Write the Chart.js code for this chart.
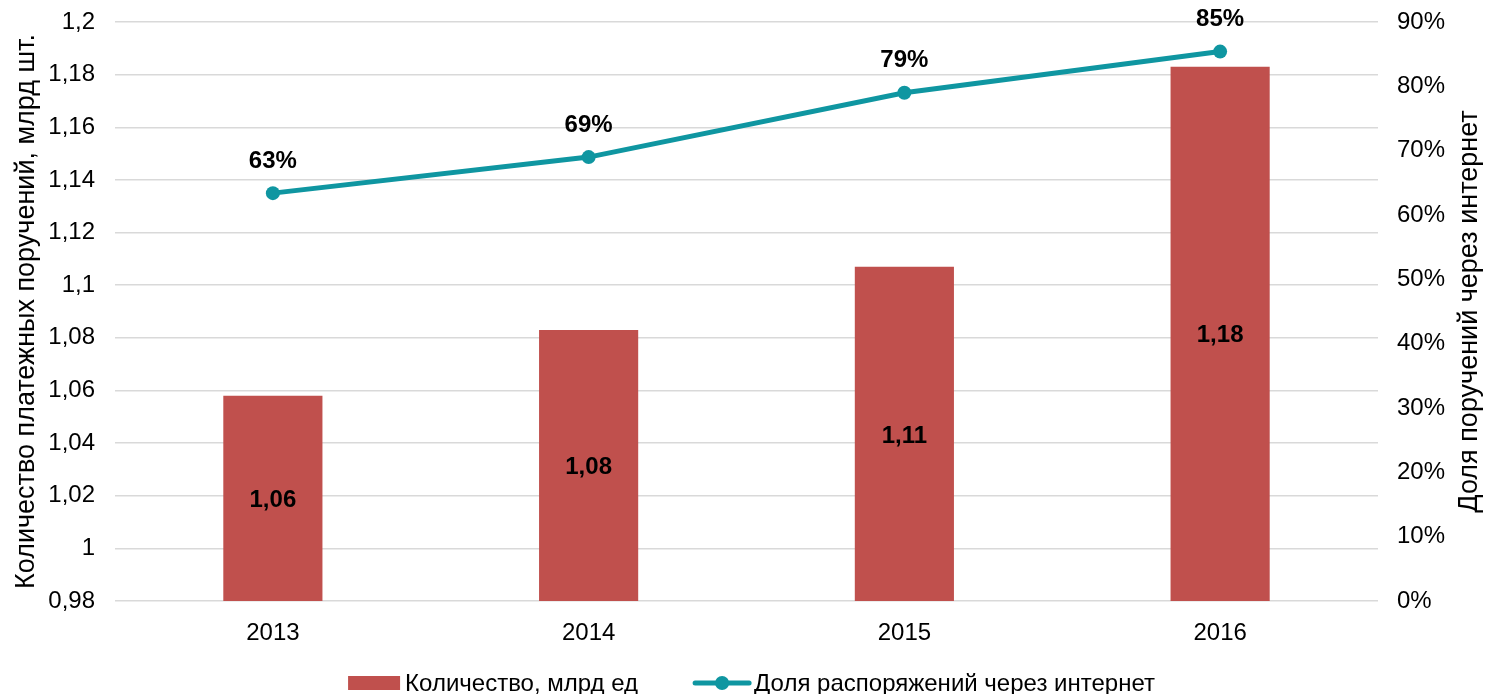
<!DOCTYPE html>
<html>
<head>
<meta charset="utf-8">
<script src="https://cdn.jsdelivr.net/npm/chart.js@4.4.0/dist/chart.umd.min.js"></script>
<style>
html,body{margin:0;padding:0;background:#fff;}
#wrap{width:1486px;height:694px;position:relative;}
</style>
</head>
<body>
<div id="wrap"><canvas id="c"></canvas></div>
<script>
const categories = ['2013', '2014', '2015', '2016'];
const countValues = [1.058, 1.083, 1.107, 1.183];      // млрд ед
const internetShare = [63.4, 69.0, 79.0, 85.4];        // %
const leftTicks = {min: 0.98, max: 1.2, step: 0.02};
const rightTicks = {min: 0, max: 90, step: 10};
const seriesNames = ['Количество, млрд ед', 'Доля распоряжений через интернет'];
const axisTitles = ['Количество платежных поручений, млрд шт.', 'Доля поручений через интернет'];

const BAR_COLOR = '#C0504D';
const LINE_COLOR = '#0F96A1';
const FONT = '"Liberation Sans", Arial, sans-serif';

const extrasPlugin = {
  id: 'extras',
  afterDatasetsDraw(chart){
    const ctx = chart.ctx;
    const area = chart.chartArea;
    ctx.save();
    ctx.fillStyle = '#000';
    ctx.font = 'bold 24px ' + FONT;
    ctx.textAlign = 'center';
    ctx.textBaseline = 'middle';
    chart.getDatasetMeta(0).data.forEach((el, i) => {
      ctx.fillText(countValues[i].toFixed(2).replace('.', ','), el.x, (el.y + area.bottom) / 2 + 2);
    });
    chart.getDatasetMeta(1).data.forEach((el, i) => {
      ctx.fillText(Math.round(internetShare[i]) + '%', el.x, el.y - 32);
    });
    ctx.restore();
  },
  afterDraw(chart){
    const ctx = chart.ctx;
    const area = chart.chartArea;
    ctx.save();
    // right axis title, reading bottom-to-top
    ctx.fillStyle = '#000';
    ctx.font = '27px ' + FONT;
    ctx.textAlign = 'center';
    ctx.textBaseline = 'middle';
    ctx.translate(1470, (area.top + area.bottom) / 2);
    ctx.rotate(-Math.PI / 2);
    ctx.fillText(axisTitles[1], 0, 0);
    ctx.restore();

    // legend
    ctx.save();
    ctx.font = '24px ' + FONT;
    ctx.textBaseline = 'middle';
    ctx.fillStyle = '#000';
    const w1 = ctx.measureText(seriesNames[0]).width;
    const w2 = ctx.measureText(seriesNames[1]).width;
    const total = 52 + 5 + w1 + 55 + 58 + 3 + w2;
    const cy = 683;
    let x = (area.left + area.right) / 2 + 5 - total / 2;
    ctx.fillStyle = BAR_COLOR;
    ctx.fillRect(x, cy - 7, 52, 14);
    x += 57;
    ctx.fillStyle = '#000';
    ctx.fillText(seriesNames[0], x, cy + 1);
    x += w1 + 55;
    ctx.strokeStyle = LINE_COLOR; ctx.lineWidth = 5; ctx.lineCap = 'round';
    ctx.beginPath(); ctx.moveTo(x + 2, cy); ctx.lineTo(x + 56, cy); ctx.stroke();
    ctx.fillStyle = LINE_COLOR;
    ctx.beginPath(); ctx.arc(x + 29, cy, 7, 0, Math.PI * 2); ctx.fill();
    x += 61;
    ctx.fillStyle = '#000';
    ctx.fillText(seriesNames[1], x, cy + 1);
    ctx.restore();
  }
};

new Chart(document.getElementById('c'), {
  data: {
    labels: categories,
    datasets: [
      {
        type: 'bar', label: seriesNames[0], data: countValues, yAxisID: 'y',
        backgroundColor: BAR_COLOR, borderWidth: 0,
        categoryPercentage: 1, barPercentage: 0.314
      },
      {
        type: 'line', label: seriesNames[1], data: internetShare, yAxisID: 'y1',
        borderColor: LINE_COLOR, backgroundColor: LINE_COLOR, borderWidth: 5,
        pointRadius: 7, pointHoverRadius: 7, pointBackgroundColor: LINE_COLOR,
        pointBorderWidth: 0, tension: 0, pointStyle: 'circle'
      }
    ]
  },
  options: {
    responsive: true, maintainAspectRatio: false, animation: false,
    layout: {padding: {top: 0, left: 0, right: 0, bottom: 45}},
    plugins: {
      tooltip: {enabled: false},
      legend: {display: false}
    },
    scales: {
      x: {
        grid: {display: false}, border: {display: false},
        ticks: {color: '#000', font: {family: FONT, size: 24}, padding: 10},
        afterFit(s){ s.height = 48; }
      },
      y: {
        position: 'left', min: leftTicks.min, max: leftTicks.max,
        grid: {color: '#D9D9D9', lineWidth: 1.5, drawTicks: false}, border: {display: false},
        ticks: {
          stepSize: leftTicks.step, color: '#000', font: {family: FONT, size: 24}, padding: 20,
          callback: v => String(Number(v.toFixed(2))).replace('.', ',')
        },
        title: {display: true, text: axisTitles[0], color: '#000', font: {family: FONT, size: 27}, padding: {top: 10, bottom: 0}},
        afterFit(s){ s.width = 115; s.paddingTop = 22; s.paddingBottom = 0; }
      },
      y1: {
        position: 'right', min: rightTicks.min, max: rightTicks.max,
        grid: {display: false, drawTicks: false}, border: {display: false},
        ticks: {
          stepSize: rightTicks.step, color: '#000', font: {family: FONT, size: 24}, padding: 19,
          callback: v => v + '%'
        },
        afterFit(s){ s.width = 108; s.paddingTop = 22; s.paddingBottom = 0; }
      }
    }
  },
  plugins: [extrasPlugin]
});
</script>
</body>
</html>
